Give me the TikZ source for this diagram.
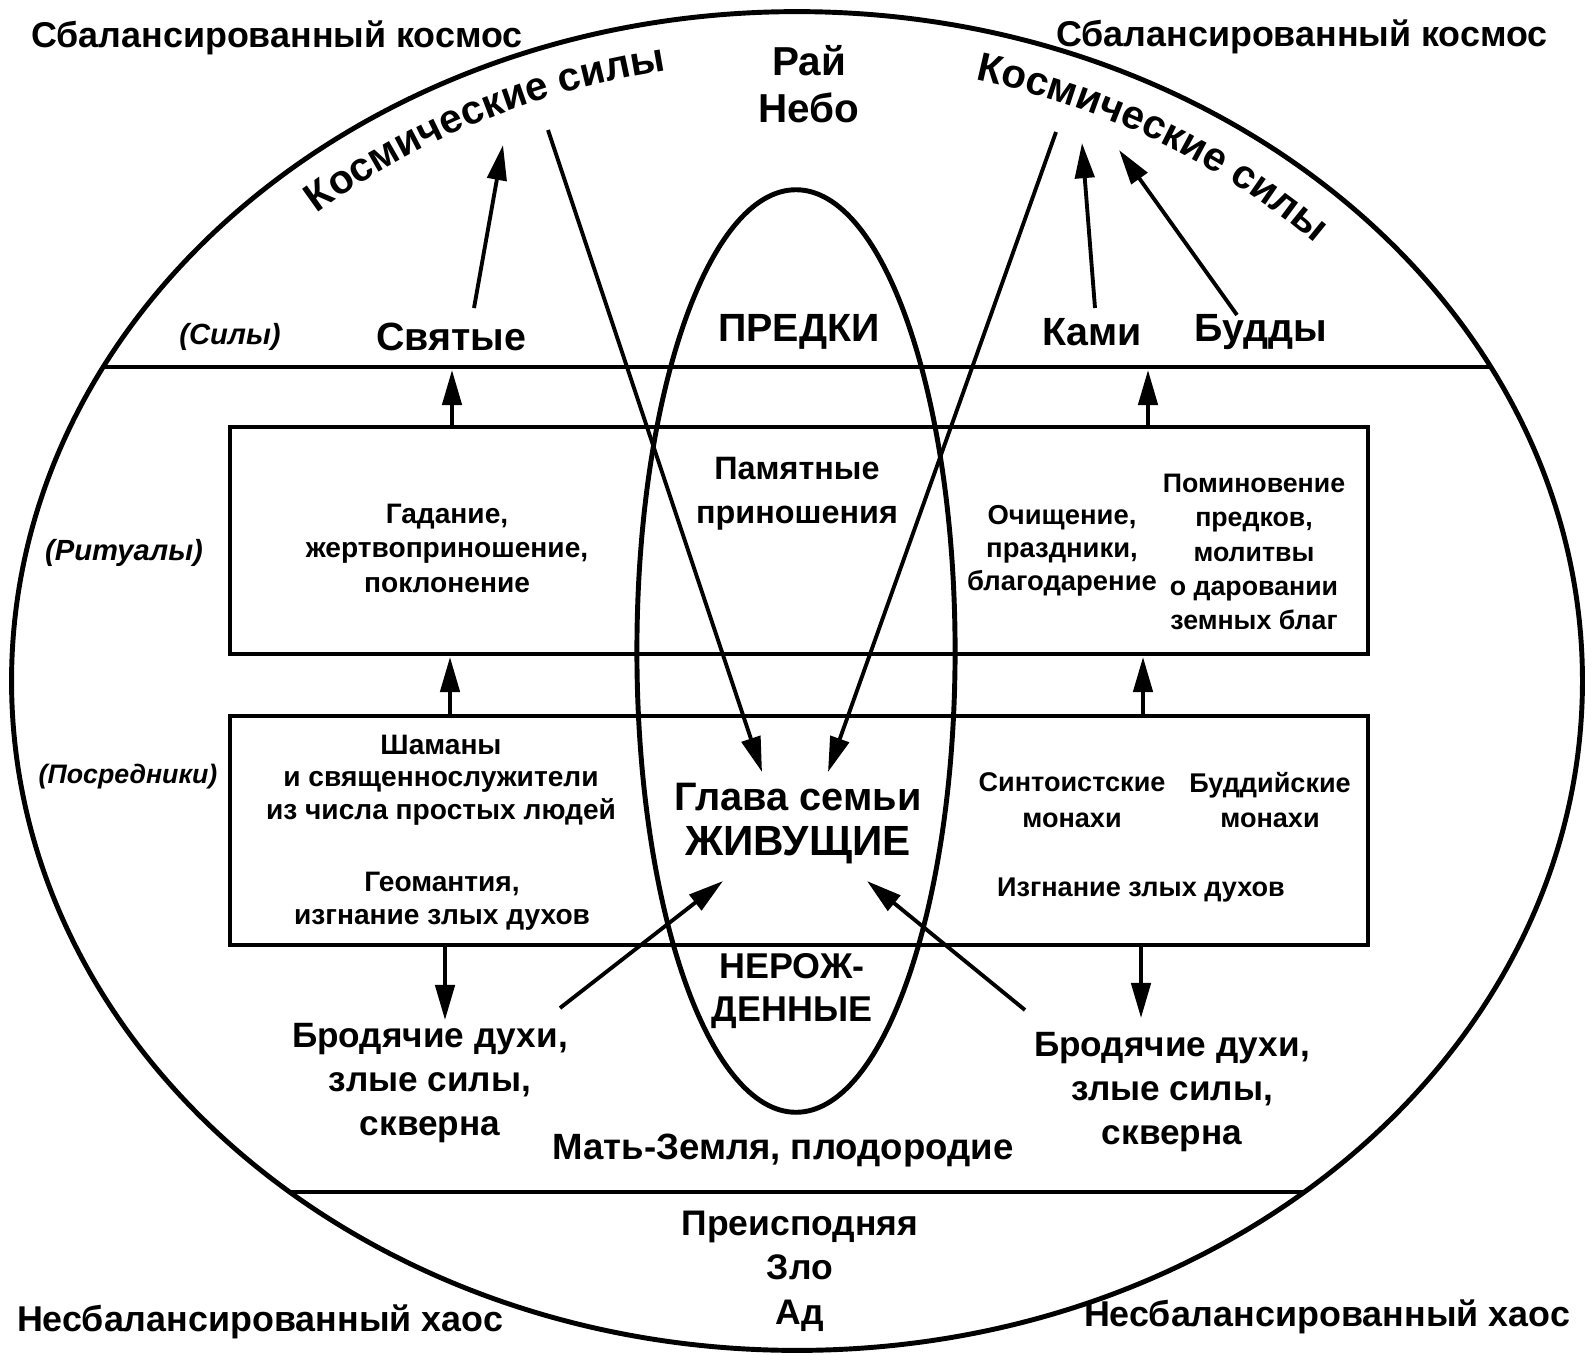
\documentclass[tikz,border=0pt]{standalone}
\usepackage{fontspec}
\setmainfont{Liberation Sans}
\usetikzlibrary{arrows.meta,decorations.text}
\newcommand\curvfont{\fontsize{11.5}{14}\selectfont\bfseries}
\begin{document}
\begin{tikzpicture}[x=0.01cm,y=-0.01cm,
  txt/.style={align=center, inner sep=0pt},
  fs/.style 2 args={font=\fontsize{#1}{#2}\selectfont\bfseries},
  fsi/.style 2 args={font=\fontsize{#1}{#2}\selectfont\bfseries\itshape},
  frame/.style={line width=1.4pt},
  arr/.style={line width=1.1pt, -{Triangle[length=10pt,width=5.5pt]}}]
\useasboundingbox (0,0) rectangle (1585,1354);
% outer and inner ellipses
\coordinate (oc) at (797,681);
\coordinate (ic) at (796,651);
\draw[frame] (oc) ellipse [x radius=7.85cm, y radius=6.69cm];
\draw[frame] (ic) ellipse [x radius=1.59cm, y radius=4.61cm];
% horizontal lines
\coordinate (l1a) at (104,367); \coordinate (l1b) at (1490,367);
\coordinate (l2a) at (290,1192); \coordinate (l2b) at (1304,1192);
\draw[frame] (l1a) -- (l1b);
\draw[frame] (l2a) -- (l2b);
% boxes
\coordinate (b1a) at (230,427); \coordinate (b1b) at (1368,654);
\coordinate (b2a) at (230,716); \coordinate (b2b) at (1368,945);
\draw[frame] (b1a) rectangle (b1b);
\draw[frame] (b2a) rectangle (b2b);
% curved texts
\path[decorate, decoration={text along path, text={|\curvfont|Космические силы}, text align=center}]
  (oc) ++(140:7.3cm and 6.2cm) arc[start angle=140, end angle=92, x radius=7.3cm, y radius=6.2cm];
\path[decorate, decoration={text along path, text={|\curvfont|Космические силы}, text align=center}]
  (oc) ++(84:7.3cm and 6.2cm) arc[start angle=84, end angle=36, x radius=7.3cm, y radius=6.2cm];
% corner texts
\node[txt, fs={10.2}{12}] (sk1) at (277,38) {Сбалансированный космос};
\node[txt, fs={10.2}{12}] (sk2) at (1302,37) {Сбалансированный космос};
\node[txt, fs={10.2}{12}] (nh1) at (260,1322) {Несбалансированный хаос};
\node[txt, fs={10.2}{12}] (nh2) at (1327,1317) {Несбалансированный хаос};
% top
\node[txt, fs={11.5}{13.4}] (ray) at (809,84) {Рай\\Небо};
\node[txt, fsi={8.3}{10}] (sily) at (230,337) {(Силы)};
\node[txt, fs={11.2}{13}] (svy) at (451,337) {Святые};
\node[txt, fs={11.2}{13}] (pred) at (799,332) {ПРЕДКИ};
\node[txt, fs={11.2}{13}] (kami) at (1092,332) {Ками};
\node[txt, fs={11.2}{13}] (budd) at (1261,332) {Будды};
% side labels
\node[txt, fsi={8.3}{10}] (rit) at (124,553) {(Ритуалы)};
\node[txt, fsi={7.6}{10}] (posr) at (128,777) {(Посредники)};
% rituals box
\node[txt, fs={8}{9.8}] (gad) at (447,548) {Гадание,\\жертвоприношение,\\поклонение};
\node[txt, fs={9.2}{12.5}] (pam) at (797,494) {Памятные\\приношения};
\node[txt, fs={7.8}{9.4}] (och) at (1062,551) {Очищение,\\праздники,\\благодарение};
\node[txt, fs={7.6}{9.75}] (pom) at (1254,552) {Поминовение\\предков,\\молитвы\\о даровании\\земных благ};
% mediators box
\node[txt, fs={8}{9.25}] (sham) at (441,780) {Шаманы\\и священнослужители\\из числа простых людей};
\node[txt, fs={8}{9.25}] (geo) at (442,901) {Геомантия,\\изгнание злых духов};
\node[txt, fs={7.7}{10.2}] (sint) at (1072,800) {Синтоистские\\монахи};
\node[txt, fs={7.7}{10.2}] (budm) at (1270,800) {Буддийские\\монахи};
\node[txt, fs={7.7}{10}] (izg) at (1141,890) {Изгнание злых духов};
\node[txt, fs={11.3}{13}] (glava) at (798,797) {Глава семьи};
\node[txt, fs={12}{14}] (zhiv) at (798,845) {ЖИВУЩИЕ};
% bottom
\node[txt, fs={10.2}{12}] (neroz) at (792,991) {НЕРОЖ-\\ДЕННЫЕ};
\node[txt, fs={10}{12.4}] (brod1) at (430,1083) {Бродячие духи,\\злые силы,\\скверна};
\node[txt, fs={10}{12.4}] (brod2) at (1172,1092) {Бродячие духи,\\злые силы,\\скверна};
\node[txt, fs={10.4}{12}] (mat) at (783,1151) {Мать-Земля, плодородие};
\node[txt, fs={10.1}{12.7}] (preis) at (800,1271) {Преисподняя\\Зло\\Ад};
% arrow end points
\coordinate (svs) at (474,308); \coordinate (svt) at (503,145);
\coordinate (lls) at (548,130); \coordinate (llt) at (762,772);
\coordinate (lrs) at (1056,132); \coordinate (lrt) at (828,772);
\coordinate (kas) at (1095,308); \coordinate (kat) at (1082,143);
\coordinate (bus) at (1237,315); \coordinate (but) at (1119,150);
\coordinate (bls) at (560,1008); \coordinate (blt) at (723,881);
\coordinate (brs) at (1025,1010); \coordinate (brt) at (867,881);
\coordinate (u1s) at (452,427); \coordinate (u1t) at (452,370);
\coordinate (u2s) at (1148,427); \coordinate (u2t) at (1148,370);
\coordinate (m1s) at (450,716); \coordinate (m1t) at (450,657);
\coordinate (m2s) at (1143,716); \coordinate (m2t) at (1143,657);
\coordinate (d1s) at (445,945); \coordinate (d1t) at (445,1020);
\coordinate (d2s) at (1141,945); \coordinate (d2t) at (1141,1018);
\draw[arr] (svs) -- (svt);
\draw[arr] (lls) -- (llt);
\draw[arr] (lrs) -- (lrt);
\draw[arr] (kas) -- (kat);
\draw[arr] (bus) -- (but);
\draw[arr] (bls) -- (blt);
\draw[arr] (brs) -- (brt);
\draw[arr] (u1s) -- (u1t);
\draw[arr] (u2s) -- (u2t);
\draw[arr] (m1s) -- (m1t);
\draw[arr] (m2s) -- (m2t);
\draw[arr] (d1s) -- (d1t);
\draw[arr] (d2s) -- (d2t);
\end{tikzpicture}
\end{document}
